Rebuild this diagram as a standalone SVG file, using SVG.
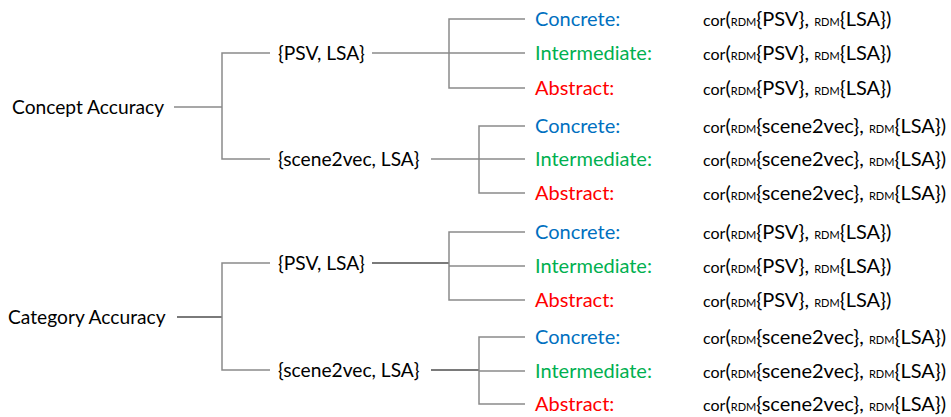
<svg xmlns="http://www.w3.org/2000/svg" width="951" height="417" viewBox="0 0 951 417">
  <style>
    text { font-family: Lato, "Open Sans", "Liberation Sans", sans-serif; font-size: 20px; fill: #000; }
    .node { font-size: 19.2px; }
    .concrete { fill: #0070C0; }
    .inter { fill: #00B050; }
    .abstract { fill: #FF0000; }
    .cor { font-size: 16px; }
    .rdm { font-size: 11px; }
    .link { stroke: #8a8a8a; stroke-width: 1.5; fill: none; }
    .link.heavy { stroke: #7a7a7a; stroke-width: 2; }
  </style>

  <!-- connectors -->
  <g id="connectors">
    <!-- Concept Accuracy tree -->
    <path class="link" d="M174 107H222M270 53H222V159H270"/>
    <path class="link" d="M372 53H449M525 19H449V88H525M449 53H525"/>
    <path class="link" d="M431 159H479M525 126H479V193H525M479 159H525"/>
    <!-- Category Accuracy tree -->
    <path class="link heavy" d="M177 317H222"/>
    <path class="link" d="M270 263H222V370H270"/>
    <path class="link heavy" d="M372 263H449"/>
    <path class="link" d="M525 232H449V300H525M449 266H525"/>
    <path class="link heavy" d="M431 370H479"/>
    <path class="link" d="M525 337H479V404H525M479 371H525"/>
  </g>

  <!-- root nodes -->
  <g id="concept-accuracy"><text class="node" x="12" y="114">Concept Accuracy</text></g>
  <g id="category-accuracy"><text class="node" x="8" y="324">Category Accuracy</text></g>

  <!-- model pair nodes -->
  <g id="concept-psv"><text class="node" x="278" y="60">{PSV, LSA}</text></g>
  <g id="concept-s2v"><text class="node" x="278" y="166">{scene2vec, LSA}</text></g>
  <g id="category-psv"><text class="node" x="278" y="270">{PSV, LSA}</text></g>
  <g id="category-s2v"><text class="node" x="278" y="377">{scene2vec, LSA}</text></g>

  <!-- leaf nodes: concept / PSV -->
  <g id="concept-psv-concrete">
    <text class="concrete" x="535" y="26">Concrete:</text>
    <text x="703" y="26"><tspan class="cor">cor</tspan>(<tspan class="rdm">RDM</tspan>{PSV}, <tspan class="rdm">RDM</tspan>{LSA})</text>
  </g>
  <g id="concept-psv-intermediate">
    <text class="inter" x="535" y="60">Intermediate:</text>
    <text x="703" y="60"><tspan class="cor">cor</tspan>(<tspan class="rdm">RDM</tspan>{PSV}, <tspan class="rdm">RDM</tspan>{LSA})</text>
  </g>
  <g id="concept-psv-abstract">
    <text class="abstract" x="535" y="95">Abstract:</text>
    <text x="703" y="95"><tspan class="cor">cor</tspan>(<tspan class="rdm">RDM</tspan>{PSV}, <tspan class="rdm">RDM</tspan>{LSA})</text>
  </g>

  <!-- leaf nodes: concept / scene2vec -->
  <g id="concept-s2v-concrete">
    <text class="concrete" x="535" y="133">Concrete:</text>
    <text x="703" y="133"><tspan class="cor">cor</tspan>(<tspan class="rdm">RDM</tspan>{scene2vec}, <tspan class="rdm">RDM</tspan>{LSA})</text>
  </g>
  <g id="concept-s2v-intermediate">
    <text class="inter" x="535" y="166">Intermediate:</text>
    <text x="703" y="166"><tspan class="cor">cor</tspan>(<tspan class="rdm">RDM</tspan>{scene2vec}, <tspan class="rdm">RDM</tspan>{LSA})</text>
  </g>
  <g id="concept-s2v-abstract">
    <text class="abstract" x="535" y="200">Abstract:</text>
    <text x="703" y="200"><tspan class="cor">cor</tspan>(<tspan class="rdm">RDM</tspan>{scene2vec}, <tspan class="rdm">RDM</tspan>{LSA})</text>
  </g>

  <!-- leaf nodes: category / PSV -->
  <g id="category-psv-concrete">
    <text class="concrete" x="535" y="239">Concrete:</text>
    <text x="703" y="239"><tspan class="cor">cor</tspan>(<tspan class="rdm">RDM</tspan>{PSV}, <tspan class="rdm">RDM</tspan>{LSA})</text>
  </g>
  <g id="category-psv-intermediate">
    <text class="inter" x="535" y="273">Intermediate:</text>
    <text x="703" y="273"><tspan class="cor">cor</tspan>(<tspan class="rdm">RDM</tspan>{PSV}, <tspan class="rdm">RDM</tspan>{LSA})</text>
  </g>
  <g id="category-psv-abstract">
    <text class="abstract" x="535" y="307">Abstract:</text>
    <text x="703" y="307"><tspan class="cor">cor</tspan>(<tspan class="rdm">RDM</tspan>{PSV}, <tspan class="rdm">RDM</tspan>{LSA})</text>
  </g>

  <!-- leaf nodes: category / scene2vec -->
  <g id="category-s2v-concrete">
    <text class="concrete" x="535" y="344">Concrete:</text>
    <text x="703" y="344"><tspan class="cor">cor</tspan>(<tspan class="rdm">RDM</tspan>{scene2vec}, <tspan class="rdm">RDM</tspan>{LSA})</text>
  </g>
  <g id="category-s2v-intermediate">
    <text class="inter" x="535" y="378">Intermediate:</text>
    <text x="703" y="378"><tspan class="cor">cor</tspan>(<tspan class="rdm">RDM</tspan>{scene2vec}, <tspan class="rdm">RDM</tspan>{LSA})</text>
  </g>
  <g id="category-s2v-abstract">
    <text class="abstract" x="535" y="411">Abstract:</text>
    <text x="703" y="411"><tspan class="cor">cor</tspan>(<tspan class="rdm">RDM</tspan>{scene2vec}, <tspan class="rdm">RDM</tspan>{LSA})</text>
  </g>
</svg>
